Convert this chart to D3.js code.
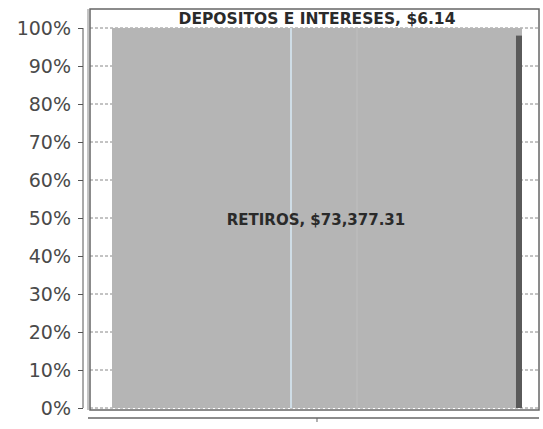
<!DOCTYPE html>
<html><head><meta charset="utf-8">
<script src="https://cdn.jsdelivr.net/npm/d3@7"></script>
<style>body{margin:0;background:#fff}</style>
</head><body>
<svg id="c" width="543" height="429"></svg>
<script>
const categories = ["Total"];
const seriesNames = ["RETIROS", "DEPOSITOS E INTERESES"];
const seriesValues = [73377.31, 6.14];
const yTicks = [0,10,20,30,40,50,60,70,80,90,100];

const svg = d3.select("#c");
const frame = {l:90, r:539, t:9, b:410};
const y = d3.scaleLinear().domain([0,100]).range([408, 28]);
const x = d3.scaleBand().domain(categories).range([frame.l, frame.r]).paddingInner(0).paddingOuter(0.0476).align(0.564);

const total = d3.sum(seriesValues);
let acc = 0;
const stacks = seriesValues.map((v,i)=>{const s={name:seriesNames[i], v, y0:acc/total*100, y1:(acc+v)/total*100}; acc+=v; return s;});

// gridlines (dashed)
const g = svg.append("g");
yTicks.forEach(t=>{
  g.append("line").attr("x1",frame.l).attr("x2",frame.r).attr("y1",y(t)).attr("y2",y(t))
   .attr("stroke","#888").attr("stroke-width",1).attr("stroke-dasharray","3,2");
});

// bar
const bx = x(categories[0]), bw = x.bandwidth();
stacks.forEach((s,i)=>{
  svg.append("rect").attr("x",bx).attr("width",bw)
    .attr("y",y(s.y1)).attr("height",y(s.y0)-y(s.y1))
    .attr("fill", i===0 ? "#b5b5b5" : "#a8a8a8");
});
// dark edge at right of bar
svg.append("rect").attr("x",bx+bw-6).attr("width",6).attr("y",y(98)).attr("height",y(0)-y(98)).attr("fill","#5a5a5a");
// light vertical artifact lines
svg.append("line").attr("x1",291).attr("x2",291).attr("y1",y(100)).attr("y2",y(0)).attr("stroke","#cfdde6").attr("stroke-width",2);
svg.append("line").attr("x1",357).attr("x2",357).attr("y1",y(100)).attr("y2",y(0)).attr("stroke","#bdbdbd").attr("stroke-width",1.5);

// frame
svg.append("rect").attr("x",frame.l).attr("y",frame.t).attr("width",frame.r-frame.l).attr("height",frame.b-frame.t)
  .attr("fill","none").attr("stroke","#666").attr("stroke-width",1.5);
svg.append("line").attr("x1",frame.l-2).attr("x2",frame.l-2).attr("y1",frame.t).attr("y2",frame.b).attr("stroke","#888").attr("stroke-width",1);

// y axis
const ya = svg.append("g").attr("transform","translate(83,0)")
  .call(d3.axisLeft(y).tickValues(yTicks).tickSize(5).tickPadding(7).tickFormat(d=>d+"%"));
ya.select(".domain").attr("stroke","#555").attr("d",`M-0,${y(100)}V${y(0)}`);
ya.selectAll(".tick line").attr("stroke","#555");
ya.selectAll("text").attr("font-family","DejaVu Sans").attr("font-size",19).attr("fill","#4a4a4a").attr("dy","0.34em");

// x axis
const xa = svg.append("g").attr("transform","translate(0,418)")
  .call(d3.axisBottom(x).tickSize(4).tickFormat(""));
xa.select(".domain").attr("stroke","#666").attr("stroke-width",1.5).attr("d",`M${frame.l-2},0H${frame.r}`);
xa.selectAll(".tick line").attr("stroke","#666");

// labels
svg.append("text").attr("x",bx+bw/2 - 1).attr("y",y((stacks[0].y0+stacks[0].y1)/2)+7)
  .attr("text-anchor","middle").attr("font-family","DejaVu Sans").attr("font-weight","bold")
  .attr("font-size",15).attr("fill","#2a2a2a").text(`${stacks[0].name}, $${d3.format(",.2f")(stacks[0].v)}`);
svg.append("text").attr("x",bx+bw/2).attr("y",24)
  .attr("text-anchor","middle").attr("font-family","DejaVu Sans").attr("font-weight","bold")
  .attr("font-size",15.5).attr("fill","#2a2a2a").text(`${stacks[1].name}, $${d3.format(",.2f")(stacks[1].v)}`);
</script>
</body></html>
